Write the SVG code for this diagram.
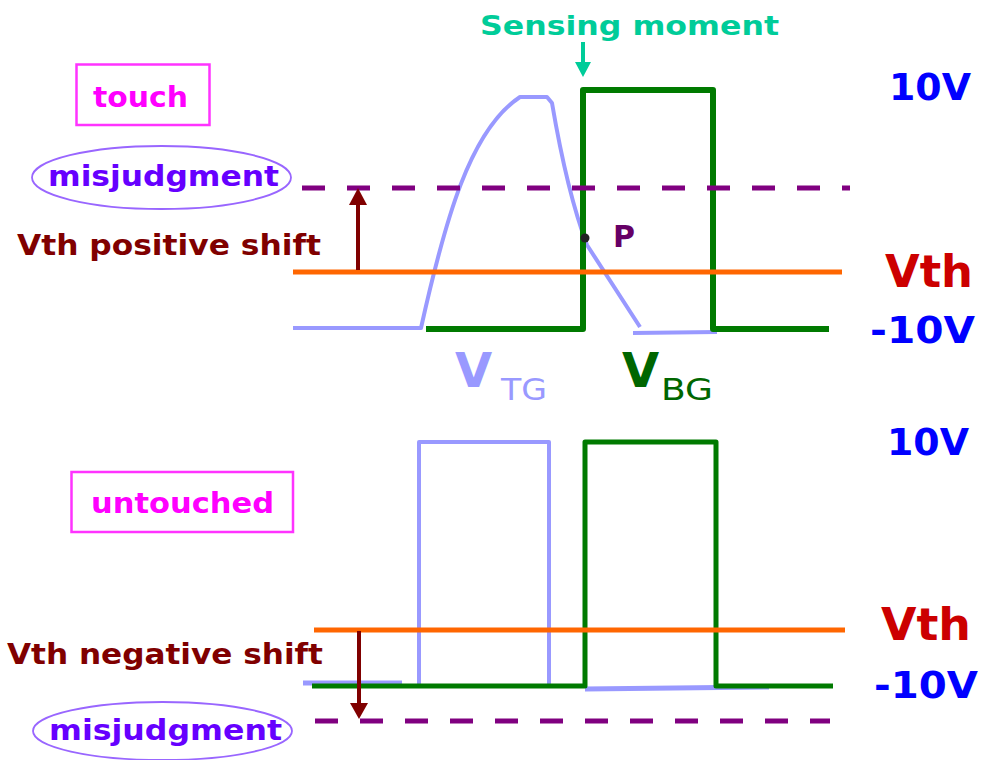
<svg xmlns="http://www.w3.org/2000/svg" width="983" height="760" viewBox="0 0 983 760">
<style>
.b{font-family:"DejaVu Sans","Liberation Sans",sans-serif;font-weight:bold}
.r{font-family:"DejaVu Sans","Liberation Sans",sans-serif;font-weight:normal}
.mag{fill:#ff00ff;font-size:29px}
.mis{fill:#6600ff;font-size:29px}
.shift{fill:#800000;font-size:29px}
.volt{fill:#0000ff;font-size:37px}
.vth{fill:#cc0000;font-size:45px}
.box{fill:none;stroke:#ff33ff;stroke-width:2.5}
.ell{fill:none;stroke:#9966ff;stroke-width:1.8}
.green{fill:none;stroke:#007a00;stroke-width:6;stroke-linejoin:round}
.blue{fill:none;stroke:#9999ff;stroke-width:4;stroke-linejoin:round}
.orange{stroke:#ff6600;stroke-width:5}
.dash{stroke:#800080;stroke-width:5;stroke-dasharray:23 22}
.arr{stroke:#800000;stroke-width:4}
</style>
<g id="waveforms">
<g id="top-waves">
<path class="blue" d="M293 328 H421 C445 220 470 130 520 97 L547 97 L552 103 C560 150 570 200 587 245 L640 327"/>
<path class="blue" d="M633 333 L717 332"/>
<path class="green" d="M426 329 H583 V90 H713 V329 H829"/>
</g>
<g id="bottom-waves">
<path class="blue" d="M303 683 H402" style="stroke-width:5"/>
<path class="blue" d="M419 685 V442 H549 V685"/>
<path class="blue" d="M585 689 L769 687" style="stroke-width:5"/>
<path class="green" d="M312 686 H585 V442 H716 V686 H833" style="stroke-width:5"/>
</g>
</g>
<g id="connectors">
<line class="dash" x1="302" y1="188" x2="850" y2="188"/>
<line class="orange" x1="293" y1="272" x2="842" y2="272"/>
<line class="orange" x1="314" y1="630" x2="845" y2="630"/>
<line class="dash" x1="315" y1="721" x2="830" y2="721"/>
<line class="arr" x1="358" y1="270" x2="358" y2="203"/>
<polygon fill="#800000" points="349,205 367,205 358,188"/>
<line class="arr" x1="359" y1="631" x2="359" y2="705"/>
<polygon fill="#800000" points="350,703 368,703 359,719"/>
<line stroke="#00cc99" stroke-width="4" x1="583" y1="42" x2="583" y2="64"/>
<polygon fill="#00cc99" points="575,62 591,62 583,77"/>
</g>
<g id="point-P">
<circle cx="585" cy="238" r="4.5" fill="#222"/>
<text class="b" x="613" y="247" font-size="30" fill="#660066" textLength="22" lengthAdjust="spacingAndGlyphs">P</text>
</g>
<g id="sensing-label">
<text class="b" x="480" y="35" font-size="27" fill="#00cc99" textLength="299" lengthAdjust="spacingAndGlyphs">Sensing moment</text>
</g>
<g id="touch">
<rect class="box" x="76.5" y="64.5" width="133" height="60.5"/>
<text class="b mag" x="93" y="107" textLength="95" lengthAdjust="spacingAndGlyphs">touch</text>
</g>
<g id="misjudgment-top">
<ellipse class="ell" cx="161.5" cy="177.5" rx="129.5" ry="31.5"/>
<text class="b mis" x="48" y="186" textLength="231" lengthAdjust="spacingAndGlyphs">misjudgment</text>
</g>
<g id="positive-shift">
<text class="b shift" x="17" y="255" textLength="304" lengthAdjust="spacingAndGlyphs">Vth positive shift</text>
</g>
<g id="untouched">
<rect class="box" x="71.5" y="472" width="221.5" height="60"/>
<text class="b mag" x="91" y="513" textLength="183" lengthAdjust="spacingAndGlyphs">untouched</text>
</g>
<g id="negative-shift">
<text class="b shift" x="7" y="664" textLength="316" lengthAdjust="spacingAndGlyphs">Vth negative shift</text>
</g>
<g id="misjudgment-bottom">
<ellipse class="ell" cx="162.5" cy="731" rx="129.5" ry="29"/>
<text class="b mis" x="49" y="740" textLength="233" lengthAdjust="spacingAndGlyphs">misjudgment</text>
</g>
<g id="vtg-label">
<text class="b" x="455" y="387" font-size="48" fill="#9999ff">V</text>
<text class="r" x="501" y="400" font-size="31" fill="#9999ff" textLength="46" lengthAdjust="spacingAndGlyphs">TG</text>
</g>
<g id="vbg-label">
<text class="b" x="622" y="387" font-size="48" fill="#006600">V</text>
<text class="r" x="661" y="400" font-size="31" fill="#006600" textLength="52" lengthAdjust="spacingAndGlyphs">BG</text>
</g>
<g id="axis-top">
<text class="b volt" x="889" y="100" textLength="82" lengthAdjust="spacingAndGlyphs">10V</text>
<text class="b vth" x="885" y="287" textLength="88" lengthAdjust="spacingAndGlyphs">Vth</text>
<text class="b volt" x="870" y="343" textLength="105" lengthAdjust="spacingAndGlyphs">-10V</text>
</g>
<g id="axis-bottom">
<text class="b volt" x="887" y="455" textLength="82" lengthAdjust="spacingAndGlyphs">10V</text>
<text class="b vth" x="881" y="640" textLength="90" lengthAdjust="spacingAndGlyphs">Vth</text>
<text class="b volt" x="874" y="698" textLength="104" lengthAdjust="spacingAndGlyphs">-10V</text>
</g>
</svg>
